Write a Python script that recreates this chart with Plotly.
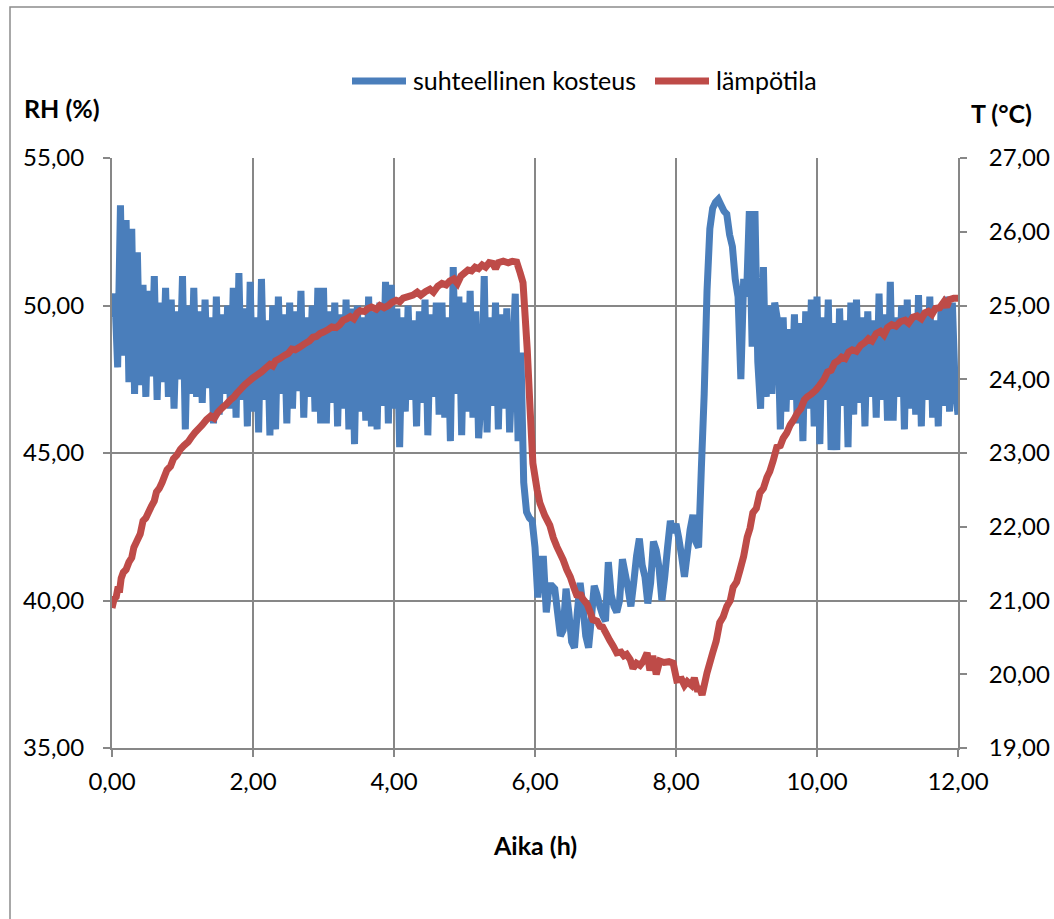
import plotly.graph_objects as go

# ---------------- data ----------------
rh_step_hours = 0.04
rh_values = [
    # 0.00 - 0.96 h
    49.6, 50.4, 47.9, 53.4, 48.3, 52.9, 47.4, 52.6, 47.0, 51.8, 47.3, 50.7, 46.9, 50.5, 47.6, 51.0, 46.8, 50.1, 47.4, 50.6, 46.9, 50.2, 46.5, 49.8, 47.5,
    # 1.00 - 1.96 h
    51.0, 45.8, 50.0, 47.0, 50.6, 46.9, 49.8, 46.7, 50.2, 47.2, 49.6, 46.0, 50.3, 46.3, 49.7, 47.0, 50.0, 46.5, 50.6, 46.2, 51.1, 46.8, 49.9, 45.9, 50.8,
    # 2.00 - 2.96 h
    46.4, 49.6, 45.7, 50.9, 46.8, 49.5, 45.6, 50.0, 45.8, 50.3, 47.0, 49.7, 46.0, 50.1, 46.5, 49.8, 47.1, 50.5, 46.2, 49.6, 46.9, 50.0, 46.4, 50.6, 46.0,
    # 3.00 - 3.96 h
    50.6, 46.0, 49.8, 46.7, 50.1, 45.9, 49.7, 46.5, 50.2, 45.8, 49.9, 45.3, 50.0, 46.4, 49.6, 46.1, 50.3, 45.9, 49.8, 45.8, 50.1, 46.6, 50.8, 46.0, 50.7,
    # 4.00 - 4.96 h
    46.5, 49.9, 45.2, 49.6, 46.4, 50.0, 46.8, 49.5, 45.9, 49.8, 46.7, 50.2, 45.6, 49.7, 46.9, 50.1, 46.3, 50.1, 46.2, 49.6, 45.4, 51.3, 47.0, 50.3, 45.6,
    # 5.00 - 5.96 h
    50.1, 46.4, 50.5, 46.2, 49.8, 45.5, 47.0, 51.0, 45.7, 49.6, 46.6, 50.1, 45.8, 49.7, 46.5, 49.9, 45.7, 48.0, 50.4, 45.4, 48.4, 44.0, 43.0, 42.8, 42.7,
    # 6.00 - 6.96 h
    41.8, 40.1, 41.4, 41.4, 39.6, 40.5, 40.5, 40.4, 39.6, 38.8, 39.0, 40.4, 39.6, 38.6, 38.4, 39.6, 40.6, 39.8, 38.8, 38.4, 39.4, 40.5, 40.2, 39.8, 39.5,
    # 7.00 - 7.96 h
    39.3, 41.3, 40.2, 39.8, 39.6, 40.0, 41.4, 40.9, 40.4, 39.8, 40.6, 41.5, 42.1, 41.2, 40.8, 39.9, 40.6, 42.0, 41.7, 41.1, 40.0, 40.8, 41.8, 42.7, 42.3,
    # 8.00 - 8.96 h
    42.6, 42.1, 41.5, 40.8, 41.6, 42.4, 42.9, 42.0, 41.8, 44.5, 47.0, 50.5, 52.6, 53.3, 53.5, 53.6, 53.4, 53.2, 53.1, 52.4, 52.0, 50.9, 50.3, 47.5, 50.9,
    # 9.00 - 9.96 h
    50.3, 53.2, 48.6, 53.2, 48.1, 46.5, 51.3, 46.9, 50.0, 47.0, 50.1, 49.5, 45.8, 49.6, 46.4, 49.2, 46.8, 49.7, 46.0, 49.4, 45.4, 49.8, 46.5, 50.2, 45.9,
    # 10.00 - 10.96 h
    50.3, 45.3, 49.6, 46.8, 50.2, 45.1, 49.4, 45.1, 49.9, 46.6, 49.5, 45.2, 50.1, 46.3, 50.2, 46.7, 49.6, 45.9, 49.8, 46.9, 49.5, 46.2, 50.4, 46.8, 49.7,
    # 11.00 - 12.00 h
    46.1, 50.8, 46.1, 49.6, 46.9, 50.0, 45.8, 50.2, 46.5, 49.7, 46.3, 50.35, 45.9, 49.8, 46.8, 50.3, 46.2, 49.5, 45.9, 50.0, 46.6, 50.3, 46.4, 50.1, 47.2, 46.3,
]
rh_hours = [round(i * rh_step_hours, 2) for i in range(len(rh_values))]

temp_hours = [
    0.00, 0.03, 0.06, 0.08, 0.11, 0.13, 0.16, 0.20, 0.24, 0.28, 0.31, 0.35, 0.40, 0.44, 0.48, 0.52, 0.56, 0.60, 0.63, 0.67,
    0.71, 0.75, 0.78, 0.83, 0.87, 0.92, 0.97, 1.02, 1.08, 1.13, 1.18, 1.23, 1.28, 1.34, 1.40, 1.45, 1.50, 1.57, 1.62, 1.68,
    1.73, 1.77, 1.82, 1.88, 1.94, 2.00, 2.06, 2.12, 2.18, 2.24, 2.28, 2.32, 2.38, 2.44, 2.50, 2.55, 2.60, 2.67, 2.73, 2.80,
    2.85, 2.90, 2.95, 3.00, 3.06, 3.12, 3.18, 3.23, 3.28, 3.33, 3.38, 3.43, 3.48, 3.52, 3.58, 3.63, 3.68, 3.75, 3.80, 3.86,
    3.92, 3.97, 4.03, 4.08, 4.13, 4.20, 4.27, 4.33, 4.38, 4.45, 4.51, 4.56, 4.62, 4.68, 4.74, 4.79, 4.85, 4.90, 4.95, 5.00,
    5.05, 5.10, 5.15, 5.20, 5.25, 5.30, 5.35, 5.40, 5.44, 5.48, 5.55, 5.62, 5.68, 5.74, 5.79, 5.83, 5.89, 5.93, 5.97, 6.03,
    6.07, 6.14, 6.21, 6.26, 6.31, 6.35, 6.40, 6.45, 6.50, 6.55, 6.60, 6.64, 6.67, 6.74, 6.78, 6.82, 6.88, 6.92, 6.96, 7.01,
    7.06, 7.11, 7.16, 7.22, 7.26, 7.30, 7.35, 7.39, 7.44, 7.49, 7.54, 7.59, 7.63, 7.67, 7.72, 7.77, 7.83, 7.90, 7.96, 8.01,
    8.08, 8.12, 8.16, 8.22, 8.26, 8.30, 8.34, 8.37, 8.44, 8.52, 8.57, 8.62, 8.67, 8.72, 8.77, 8.81, 8.86, 8.91, 8.96, 9.01,
    9.05, 9.09, 9.14, 9.19, 9.24, 9.29, 9.33, 9.38, 9.43, 9.48, 9.52, 9.57, 9.62, 9.67, 9.72, 9.77, 9.82, 9.86, 9.92, 9.98,
    10.04, 10.10, 10.15, 10.20, 10.25, 10.30, 10.35, 10.40, 10.45, 10.50, 10.56, 10.62, 10.68, 10.73, 10.78, 10.84, 10.90, 10.95, 11.00, 11.06,
    11.12, 11.18, 11.25, 11.30, 11.36, 11.42, 11.48, 11.53, 11.58, 11.63, 11.68, 11.74, 11.80, 11.84, 11.88, 11.94, 12.00,
]
temp_values = [
    20.90, 21.02, 21.05, 21.15, 21.15, 21.30, 21.38, 21.42, 21.52, 21.58, 21.72, 21.80, 21.90, 22.08, 22.12, 22.20, 22.28, 22.35, 22.47, 22.52,
    22.60, 22.70, 22.77, 22.82, 22.92, 22.97, 23.05, 23.10, 23.15, 23.22, 23.28, 23.33, 23.38, 23.45, 23.50, 23.47, 23.55, 23.62, 23.66, 23.72,
    23.76, 23.81, 23.86, 23.92, 23.97, 24.02, 24.06, 24.10, 24.15, 24.20, 24.18, 24.25, 24.28, 24.32, 24.35, 24.41, 24.40, 24.44, 24.48, 24.52,
    24.57, 24.58, 24.62, 24.64, 24.67, 24.71, 24.70, 24.74, 24.80, 24.82, 24.85, 24.82, 24.90, 24.93, 24.92, 24.96, 24.98, 24.95, 25.00, 24.97,
    25.00, 25.04, 25.07, 25.05, 25.10, 25.12, 25.14, 25.18, 25.14, 25.19, 25.22, 25.18, 25.26, 25.30, 25.28, 25.33, 25.36, 25.30, 25.40, 25.44,
    25.48, 25.47, 25.52, 25.50, 25.55, 25.52, 25.58, 25.57, 25.50, 25.58, 25.60, 25.58, 25.60, 25.59, 25.44, 25.31, 24.40, 23.60, 22.86, 22.50,
    22.32, 22.15, 22.02, 21.85, 21.73, 21.65, 21.55, 21.42, 21.32, 21.18, 21.05, 21.10, 21.03, 20.95, 20.85, 20.74, 20.72, 20.65, 20.64, 20.55,
    20.46, 20.38, 20.29, 20.30, 20.25, 20.27, 20.20, 20.08, 20.15, 20.12, 20.18, 20.29, 20.05, 20.25, 20.00, 20.18, 20.16, 20.17, 20.15, 19.92,
    19.93, 19.85, 19.90, 19.85, 19.95, 19.80, 19.80, 19.72, 20.02, 20.29, 20.45, 20.70, 20.78, 20.92, 21.00, 21.18, 21.25, 21.42, 21.60, 21.86,
    21.98, 22.19, 22.25, 22.46, 22.52, 22.67, 22.75, 22.90, 23.08, 23.10, 23.20, 23.27, 23.38, 23.45, 23.54, 23.60, 23.72, 23.76, 23.80, 23.85,
    23.92, 24.00, 24.10, 24.12, 24.22, 24.25, 24.30, 24.28, 24.37, 24.40, 24.38, 24.46, 24.50, 24.55, 24.52, 24.62, 24.65, 24.60, 24.70, 24.74,
    24.72, 24.78, 24.80, 24.76, 24.84, 24.86, 24.82, 24.90, 24.92, 24.88, 24.96, 24.97, 25.05, 24.98, 25.08, 25.10, 25.10,
]

series_names = ["suhteellinen kosteus", "lämpötila"]
x_ticks = [0, 2, 4, 6, 8, 10, 12]
rh_ticks = [35, 40, 45, 50, 55]
temp_ticks = [19, 20, 21, 22, 23, 24, 25, 26, 27]
x_title = "Aika (h)"
rh_title = "RH (%)"
temp_title = "T (°C)"

# ---------------- figure ----------------
BLUE = "#4A7EBB"
RED = "#BE4B48"
GRID = "#878787"
FONT = "Lato"
LW = 7

fig = go.Figure()
fig.add_trace(go.Scatter(
    x=rh_hours, y=rh_values, name=series_names[0], mode="lines",
    line=dict(color=BLUE, width=LW, simplify=False), yaxis="y", showlegend=False,
))
fig.add_trace(go.Scatter(
    x=temp_hours, y=temp_values, name=series_names[1], mode="lines",
    line=dict(color=RED, width=LW, simplify=False), yaxis="y2", showlegend=False,
))

L, R, T, B = 112, 958, 158, 748
W, H = 1054, 919
pw, ph = R - L, B - T


def px_x(px):
    return (px - L) / pw


def px_y(py):
    return (B - py) / ph


axis_common = dict(
    showline=True, linecolor=GRID, linewidth=2,
    ticks="outside", ticklen=7, tickcolor=GRID, tickwidth=2,
    zeroline=False, tickformat=".2f", automargin=False,
    tickfont=dict(family=FONT, size=24, color="black"),
)

# legend drawn as line samples + real text labels (Excel style)
legend_items = [
    (series_names[0], BLUE, 352, 406, 411),
    (series_names[1], RED, 655, 709, 714),
]
legend_y = 81
shapes = [
    dict(type="rect", xref="paper", yref="paper",
         x0=px_x(10), y0=px_y(930), x1=px_x(1065), y1=px_y(7),
         line=dict(color="#8C8C8C", width=1.5), fillcolor="rgba(0,0,0,0)", layer="below"),
]
annotations = []
for name, col, x0, x1, tx in legend_items:
    shapes.append(dict(type="line", xref="paper", yref="paper",
                       x0=px_x(x0), x1=px_x(x1), y0=px_y(legend_y), y1=px_y(legend_y),
                       line=dict(color=col, width=LW)))
    annotations.append(dict(text=name, xref="paper", yref="paper", x=px_x(tx), y=px_y(legend_y - 1),
                            showarrow=False, xanchor="left", yanchor="middle",
                            font=dict(family=FONT, size=25, color="black")))

for txt, cx, cy in [(rh_title, 62, 108), (temp_title, 1001, 113), (x_title, 535, 845)]:
    annotations.append(dict(text=f"<b>{txt}</b>", xref="paper", yref="paper", x=px_x(cx), y=px_y(cy),
                            showarrow=False, xanchor="center", yanchor="middle",
                            font=dict(family=FONT, size=25, color="black")))

fig.update_layout(
    width=W, height=H,
    margin=dict(l=L, r=W - R, t=T, b=H - B, pad=0, autoexpand=False),
    paper_bgcolor="white", plot_bgcolor="white",
    separators=", ",
    font=dict(family=FONT, size=24, color="black"),
    showlegend=False,
    xaxis=dict(range=[0, 12], tickvals=x_ticks, showgrid=True, gridcolor=GRID, gridwidth=2,
               ticklabelstandoff=4, **axis_common),
    yaxis=dict(range=[35, 55], tickvals=rh_ticks, showgrid=True, gridcolor=GRID, gridwidth=2,
               ticklabelstandoff=14, **axis_common),
    yaxis2=dict(range=[19, 27], tickvals=temp_ticks, overlaying="y", side="right", showgrid=False,
                ticklabelstandoff=17, **axis_common),
    annotations=annotations,
    shapes=shapes,
)

fig.write_html("out.html", config={"displayModeBar": False},
               post_script="document.body.style.margin='0';")
